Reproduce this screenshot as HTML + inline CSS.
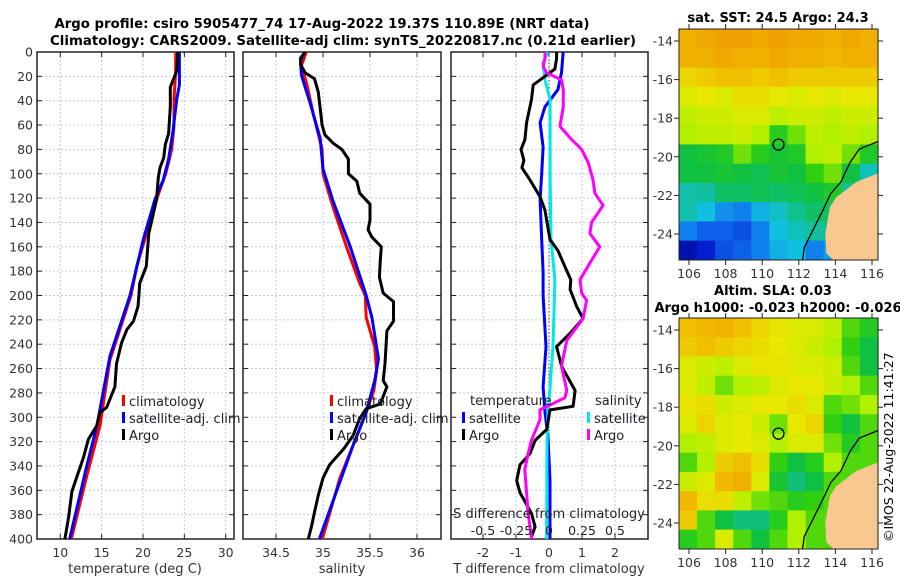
<!DOCTYPE html>
<html><head><meta charset="utf-8">
<style>
html,body{margin:0;padding:0;background:#fff;}
svg{display:block;font-family:"DejaVu Sans","Liberation Sans",sans-serif;}
</style></head>
<body>
<svg id="fig" width="900" height="580" viewBox="0 0 900 580" xmlns="http://www.w3.org/2000/svg">
<text x="322" y="28" font-size="13" font-weight="bold" text-anchor="middle" textLength="535" lengthAdjust="spacingAndGlyphs">Argo profile: csiro 5905477_74 17-Aug-2022 19.37S 110.89E (NRT data)</text>
<text x="343" y="45" font-size="13" font-weight="bold" text-anchor="middle" textLength="586" lengthAdjust="spacingAndGlyphs">Climatology: CARS2009. Satellite-adj clim: synTS_20220817.nc (0.21d earlier)</text>
<text x="778" y="22" font-size="13" font-weight="bold" text-anchor="middle">sat. SST: 24.5 Argo: 24.3</text>
<text x="773" y="295" font-size="13" font-weight="bold" text-anchor="middle">Altim. SLA: 0.03</text>
<text x="778" y="312" font-size="13" font-weight="bold" text-anchor="middle">Argo h1000: -0.023 h2000: -0.026</text>
<text transform="translate(893,542) rotate(-90)" font-size="12.5">©IMOS 22-Aug-2022 11:41:27</text>
<g id="content"></g>
</svg>
<script>
// ---------- depth axis ----------
const depthTicks = [0,20,40,60,80,100,120,140,160,180,200,220,240,260,280,300,320,340,360,380,400];
// ---------- temperature panel ----------
const tempTicks = [10,15,20,25,30];
const climTempDepth = [0,16,39,61,80,100,121,149,176,200,253,307,348,398,400];
const climTempVal   = [23.96,23.96,23.75,23.75,23.47,22.74,21.65,20.44,19.24,18.55,16.0,14.8,13.2,11.4,11.35];
const satTempDepth  = [0,27,39,66,88,105,121,154,200,250,307,340,398,400];
const satTempVal    = [24.4,24.4,24.08,23.6,23.1,22.45,21.45,20.04,18.43,16.0,14.43,13.2,11.2,11.15];
const argoTempDepth = [0,15,22,29,45,67,76,87,95,103,121,149,176,190,200,209,221,228,239,256,275,292,296,307,318,333,345,361,382,398,400];
const argoTempVal   = [24.2,24.1,23.7,23.3,23.3,23.1,22.7,22.5,22.05,21.85,21.65,20.7,20.4,19.6,19.5,19.4,18.85,18.05,17.4,16.8,16.6,15.6,14.8,14.4,13.4,12.8,12.2,11.4,11.0,10.6,10.55];
// ---------- salinity panel ----------
const salTicks = [34.5,35,35.5,36];
const climSalDepth = [0,7,11,27,52,80,100,128,160,190,200,218,242,262,278,296,323,350,398,400];
const climSalVal   = [34.82,34.79,34.77,34.83,34.9,34.99,35.0,35.11,35.25,35.39,35.45,35.46,35.55,35.57,35.54,35.46,35.32,35.18,35.0,34.995];
const satSalDepth  = [0,5,19,41,71,96,123,160,200,218,252,270,296,323,398,400];
const satSalVal    = [34.81,34.76,34.77,34.86,34.97,35.0,35.11,35.29,35.46,35.52,35.59,35.55,35.46,35.32,34.97,34.965];
const argoSalDepth = [0,5,10,17,22,33,60,68,75,80,88,100,106,116,125,138,146,152,160,171,185,198,205,221,229,256,270,275,289,293,301,315,326,339,350,364,378,389,398,400];
const argoSalVal   = [34.81,34.77,34.76,34.81,34.91,34.95,34.99,35.02,35.11,35.2,35.27,35.27,35.36,35.39,35.5,35.5,35.48,35.52,35.62,35.61,35.6,35.64,35.75,35.75,35.68,35.66,35.64,35.68,35.61,35.46,35.39,35.32,35.22,35.07,35.0,34.95,34.91,34.88,34.85,34.845];
// ---------- difference panel (T in degC, S in psu) ----------
const diffTTicks = [-2,-1,0,1,2];
const diffSTicks = [-0.5,-0.25,0,0.25,0.5];
const diffSTickLabels = ["-0.5","-0.25","0","0.25","0.5"];
const satTDiffDepth = [0,17,31,45,58,78,100,121,154,181,200,242,275,296,316,352,398,400];
const satTDiffVal   = [0.43,0.38,0.27,-0.12,-0.27,-0.18,-0.22,-0.27,-0.22,-0.18,-0.18,-0.09,-0.18,-0.12,-0.03,0.03,0.03,0.03];
const argoTDiffDepth = [0,5,14,20,27,39,58,72,80,89,95,105,119,130,140,154,163,176,187,195,209,219,231,242,258,278,291,294,310,319,330,339,352,362,379,390,398,400];
const argoTDiffVal   = [0.23,0.23,0.18,-0.12,-0.48,-0.53,-0.68,-0.73,-0.85,-0.76,-0.82,-0.58,-0.27,-0.12,-0.06,0.03,0.27,0.48,0.66,0.64,0.84,1.03,0.64,0.23,0.38,0.79,0.73,0.03,-0.07,-0.42,-0.58,-0.88,-0.98,-0.88,-0.53,-0.42,-0.53,-0.53];
const satSDiffDepth = [0,9,23,39,100,154,187,242,275,296,324,398,400];
const satSDiffVal   = [-0.01,-0.045,-0.03,0.008,0.008,0.015,0.045,0.03,0.008,-0.008,-0.015,-0.018,-0.018];
const argoSDiffDepth = [0,5,12,17,23,31,45,61,72,80,91,105,116,126,132,140,149,160,171,187,198,204,219,237,258,278,284,294,302,319,330,343,362,379,398,400];
const argoSDiffVal   = [-0.03,-0.03,-0.045,-0.018,0.095,0.108,0.108,0.083,0.173,0.248,0.298,0.333,0.348,0.41,0.373,0.323,0.31,0.385,0.323,0.235,0.248,0.285,0.258,0.135,0.095,0.135,0.12,-0.068,-0.068,-0.133,-0.158,-0.183,-0.17,-0.158,-0.133,-0.133];
// ---------- maps ----------
const lonTicks = [106,108,110,112,114,116];
const latTicks = [-14,-16,-18,-20,-22,-24];
const argoLon = 110.89, argoLat = -19.37;
const sstGrid = [
 [24.8,24.9,25.0,25.0,24.9,25.0,24.9,24.9,24.8,24.9,24.8],
 [24.8,24.8,24.9,24.8,24.8,24.9,24.8,24.8,24.7,24.8,24.8],
 [24.4,24.5,24.6,24.6,24.5,24.6,24.5,24.5,24.5,24.5,24.5],
 [24.1,24.2,24.1,24.3,24.3,24.2,24.1,24.2,24.1,24.2,24.2],
 [23.9,24.0,24.0,24.1,24.1,23.9,24.0,24.0,23.9,24.0,24.0],
 [23.8,23.9,23.9,24.0,23.8,23.3,23.6,23.9,23.8,23.9,23.8],
 [23.0,23.1,23.2,23.6,23.3,23.1,23.2,23.8,23.9,23.6,23.2],
 [23.0,23.0,23.1,23.0,22.9,23.1,23.0,23.4,23.6,23.0,22.3],
 [22.4,22.5,22.8,22.8,22.9,22.8,22.9,23.0,23.2,22.6,21.6],
 [22.4,22.0,21.7,21.6,21.9,22.2,22.6,22.8,22.8,21.8,22.2],
 [21.6,21.4,21.4,21.3,21.6,22.0,22.3,22.5,22.6,22.5,22.5],
 [20.8,21.0,21.3,21.4,21.6,21.9,22.0,21.6,21.8,22.3,22.3]];
const slaGrid = [
 [0.82,0.84,0.85,0.82,0.78,0.75,0.72,0.72,0.68,0.60,0.55],
 [0.80,0.82,0.80,0.78,0.76,0.74,0.72,0.70,0.66,0.58,0.50],
 [0.72,0.70,0.68,0.72,0.75,0.75,0.72,0.72,0.70,0.60,0.50],
 [0.72,0.68,0.62,0.66,0.68,0.72,0.74,0.74,0.70,0.66,0.60],
 [0.75,0.76,0.70,0.72,0.74,0.74,0.76,0.72,0.60,0.62,0.66],
 [0.72,0.78,0.72,0.74,0.70,0.62,0.74,0.78,0.58,0.50,0.60],
 [0.66,0.68,0.72,0.74,0.72,0.66,0.72,0.72,0.62,0.55,0.60],
 [0.60,0.66,0.80,0.82,0.76,0.58,0.50,0.56,0.66,0.60,0.60],
 [0.70,0.72,0.84,0.86,0.72,0.52,0.44,0.50,0.60,0.60,0.60],
 [0.84,0.76,0.76,0.68,0.62,0.60,0.56,0.58,0.60,0.60,0.60],
 [0.80,0.60,0.50,0.44,0.44,0.56,0.66,0.60,0.60,0.60,0.60],
 [0.56,0.60,0.72,0.60,0.50,0.60,0.66,0.60,0.60,0.60,0.60]];
const landLon = [116.35,115.15,114.05,113.7,113.45,113.5,113.9,116.35];
const landLat = [-20.85,-21.3,-22.1,-22.6,-24.0,-25.0,-25.4,-25.4];
const coastLon = [116.35,115.3,114.8,114.3,113.75,113.3,112.75,112.3,112.2];
const coastLat = [-19.2,-19.6,-20.3,-21.3,-21.9,-22.8,-23.85,-24.7,-25.4];

const NS='http://www.w3.org/2000/svg';
const root=document.getElementById('content');
function mk(tag,attrs,parent){const e=document.createElementNS(NS,tag);for(const k in attrs)e.setAttribute(k,attrs[k]);(parent||root).appendChild(e);return e;}
function txt(s,attrs,parent){const e=mk('text',attrs,parent);e.textContent=s;return e;}

const PT=52, PB=539;
const dY=d=>PT+(d/400)*(PB-PT);
function linScale(v0,p0,v1,p1){return v=>p0+(v-v0)*(p1-p0)/(v1-v0);}
const tX=linScale(10,60.3,30,225.7);
const sX=linScale(34.5,276,36,417);
const dTX=linScale(0,549,1,582);
const dSX=v=>dTX(v*4);

function panel(x0,x1,name,vTicks,xf){
  const g=mk('g',{});
  
  
  vTicks.forEach(v=>{const l=mk('line',{x1:xf(v),x2:xf(v),y1:PT,y2:PB,stroke:'#c4c8e8','stroke-width':1,'stroke-dasharray':'2,2'},g);
    });
  depthTicks.forEach(d=>{const y=dY(d);
    if(d>0&&d<400){const l=mk('line',{x1:x0,x2:x1,y1:y,y2:y,stroke:'#c4c8e8','stroke-width':1,'stroke-dasharray':'2,2'},g);
      }
    mk('line',{x1:x0,x2:x0+5,y1:y,y2:y,stroke:'#222'},g);
    mk('line',{x1:x1-5,x2:x1,y1:y,y2:y,stroke:'#222'},g);});
  vTicks.forEach(v=>{mk('line',{x1:xf(v),x2:xf(v),y1:PB,y2:PB-5,stroke:'#222'},g);mk('line',{x1:xf(v),x2:xf(v),y1:PT,y2:PT+5,stroke:'#222'},g);});
  const r=mk('rect',{x:x0,y:PT,width:x1-x0,height:PB-PT,fill:'none',stroke:'#222','stroke-width':1.5},g);
  
  return g;
}
function series(ds,vs,xf,color,name,w){
  const pts=ds.map((d,i)=>xf(vs[i]).toFixed(1)+','+dY(d).toFixed(1)).join(' ');
  const p=mk('polyline',{points:pts,fill:'none',stroke:color,'stroke-width':w||3,'stroke-linejoin':'round'});
  
  
}
function legendEntry(x,y,color,label,name){
  const g=mk('g',{});
  
  
  mk('rect',{x:x,y:y-6,width:3,height:11,fill:color},g);
  txt(label,{x:x+7,y:y+5,'font-size':13,fill:'#222'},g);
}

// depth tick labels
depthTicks.forEach(d=>{const t=txt(String(d),{x:33,y:dY(d)+4.5,'font-size':12.5,'text-anchor':'end',fill:'#333'});
  });

// panel 1 temperature
panel(37,234,'temperature-panel',tempTicks,tX);
series(climTempDepth,climTempVal,tX,'#ff0000','climatology-temp-line');
series(satTempDepth,satTempVal,tX,'#0000ff','satellite-temp-line');
series(argoTempDepth,argoTempVal,tX,'#000000','argo-temp-line');
tempTicks.forEach(v=>{const t=txt(String(v),{x:tX(v),y:557,'font-size':12.5,'text-anchor':'middle',fill:'#333'});});
{const t=txt('temperature (deg C)',{x:135,y:573,'font-size':13,'text-anchor':'middle',fill:'#333'});}
legendEntry(122,401,'#ff0000','climatology','legend-climatology-temp');
legendEntry(122,418,'#0000ff','satellite-adj. clim','legend-satellite-temp');
legendEntry(122,435,'#000000','Argo','legend-argo-temp');

// panel 2 salinity
panel(243,441,'salinity-panel',salTicks,sX);
series(climSalDepth,climSalVal,sX,'#ff0000','climatology-salinity-line');
series(satSalDepth,satSalVal,sX,'#0000ff','satellite-salinity-line');
series(argoSalDepth,argoSalVal,sX,'#000000','argo-salinity-line');
salTicks.forEach(v=>{const t=txt(String(v),{x:sX(v),y:557,'font-size':12.5,'text-anchor':'middle',fill:'#333'});});
{const t=txt('salinity',{x:342,y:573,'font-size':13,'text-anchor':'middle',fill:'#333'});}
legendEntry(330,401,'#ff0000','climatology','legend-climatology-salinity');
legendEntry(330,418,'#0000ff','satellite-adj. clim','legend-satellite-salinity');
legendEntry(330,435,'#000000','Argo','legend-argo-salinity');

// panel 3 differences
panel(451,648,'difference-panel',diffTTicks,dTX);
{const l=mk('line',{x1:dTX(0),x2:dTX(0),y1:PT,y2:PB,stroke:'#444','stroke-width':1,'stroke-dasharray':'1.5,2'});}
series(satTDiffDepth,satTDiffVal,dTX,'#0000ff','satellite-temp-diff-line');
series(satSDiffDepth,satSDiffVal,dSX,'#00e8e8','satellite-salinity-diff-line');
series(argoTDiffDepth,argoTDiffVal,dTX,'#000000','argo-temp-diff-line');
series(argoSDiffDepth,argoSDiffVal,dSX,'#ff00ff','argo-salinity-diff-line');
diffTTicks.forEach(v=>{const t=txt(String(v),{x:dTX(v),y:557,'font-size':12.5,'text-anchor':'middle',fill:'#333'});});
diffSTicks.forEach((v,i)=>{const t=txt(diffSTickLabels[i],{x:dSX(v),y:535,'font-size':12.5,'text-anchor':'middle',fill:'#222'});});
{const t=txt('S difference from climatology',{x:549,y:518,'font-size':13,'text-anchor':'middle',fill:'#222'});}
{const t=txt('T difference from climatology',{x:549,y:573,'font-size':13,'text-anchor':'middle',fill:'#333'});}
{const t=txt('temperature',{x:470,y:405,'font-size':13,fill:'#222'});}
{const t=txt('salinity',{x:595,y:405,'font-size':13,fill:'#222'});}
legendEntry(462,418,'#0000ff','satellite','legend-satellite-temp-diff');
legendEntry(462,435,'#000000','Argo','legend-argo-temp-diff');
legendEntry(587,418,'#00e8e8','satellite','legend-satellite-salinity-diff');
legendEntry(587,435,'#ff00ff','Argo','legend-argo-salinity-diff');

// colormap
const cmStops=[[0,'#000080'],[0.1,'#0020d0'],[0.2,'#1070f0'],[0.3,'#10c0e0'],[0.4,'#10c0a0'],[0.5,'#10c040'],[0.58,'#30d010'],[0.66,'#b0f000'],[0.74,'#e8e800'],[0.82,'#f0c000'],[0.9,'#f0a000'],[1,'#e07800']];
function hex(h){return [1,3,5].map(i=>parseInt(h.substr(i,2),16));}
function cmap(v){v=Math.max(0,Math.min(1,v));for(let i=1;i<cmStops.length;i++){if(v<=cmStops[i][0]){const a=cmStops[i-1],b=cmStops[i];const f=(v-a[0])/(b[0]-a[0]);const ca=hex(a[1]),cb=hex(b[1]);return 'rgb('+ca.map((c,k)=>Math.round(c+(cb[k]-c)*f)).join(',')+')';}}return cmStops[cmStops.length-1][1];}

function drawMap(top,bottom,grid,norm,name){
  const L=679,R=878;
  const lonX=linScale(106,689,116,872);
  const latY=linScale(-14,top+12,-24,top+205);
  const g=mk('g',{});
  
  
  const lon0=105.45,lat0=-13.38,dlon=(116.33-105.45)/11,dlat=(25.34-13.38)/12;
  grid.forEach((row,r)=>row.forEach((v,c)=>{
    const x=lonX(lon0+c*dlon),y=latY(lat0-r*dlat);
    const rc=mk('rect',{x:x.toFixed(1),y:y.toFixed(1),width:(lonX(lon0+(c+1)*dlon)-x+0.6).toFixed(1),height:(latY(lat0-(r+1)*dlat)-y+0.6).toFixed(1),fill:cmap(norm(v))},g);
    
    
  }));
  const land=mk('polygon',{points:landLon.map((lo,i)=>lonX(lo).toFixed(1)+','+Math.min(bottom,latY(landLat[i])).toFixed(1)).join(' '),fill:'#f8c890'},g);
  
  const coast=mk('polyline',{points:coastLon.map((lo,i)=>lonX(lo).toFixed(1)+','+Math.min(bottom,latY(coastLat[i])).toFixed(1)).join(' '),fill:'none',stroke:'#000','stroke-width':1.3},g);
  
  const mk2=mk('circle',{cx:lonX(argoLon),cy:latY(argoLat),r:5.5,fill:'none',stroke:'#000','stroke-width':1.3},g);
  
  const fr=mk('rect',{x:L,y:top,width:R-L,height:bottom-top,fill:'none',stroke:'#222','stroke-width':1},g);
  
  latTicks.forEach(la=>{const y=latY(la);mk('line',{x1:L-5,x2:L,y1:y,y2:y,stroke:'#222'},g);mk('line',{x1:R,x2:R+5,y1:y,y2:y,stroke:'#222'},g);
    const t=txt(String(la),{x:673,y:y+4.5,'font-size':12.5,'text-anchor':'end',fill:'#333'},g);});
  lonTicks.forEach(lo=>{const x=lonX(lo);mk('line',{x1:x,x2:x,y1:bottom,y2:bottom+5,stroke:'#222'},g);mk('line',{x1:x,x2:x,y1:top-5,y2:top,stroke:'#222'},g);
    const t=txt(String(lo),{x:x,y:bottom+18,'font-size':12.5,'text-anchor':'middle',fill:'#333'},g);});
}
drawMap(29,260,sstGrid,v=>(v-20.5)/5,'sst-map');
drawMap(318,549,slaGrid,v=>v,'sla-map');
</script>
</body></html>
